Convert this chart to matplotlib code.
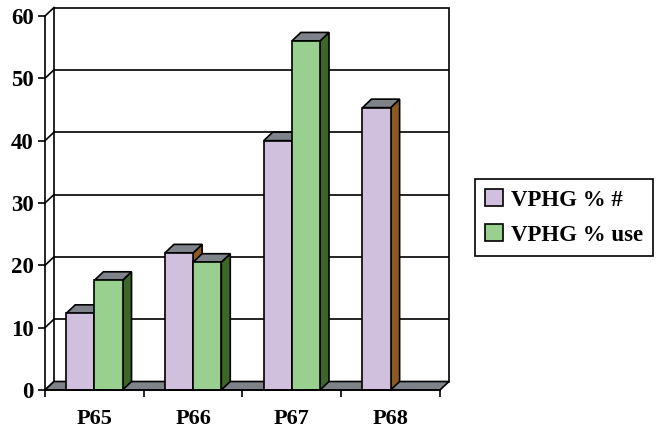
import matplotlib
matplotlib.use("Agg")
import matplotlib.pyplot as plt
from matplotlib.patches import Polygon, Patch

# ---- data ----
categories = ["P65", "P66", "P67", "P68"]
series_names = ["VPHG % #", "VPHG % use"]
vphg_count = [12.3, 22.0, 40.0, 45.3]
vphg_use = [17.6, 20.5, 56.0, 0.0]
y_ticks = [0, 10, 20, 30, 40, 50, 60]

# ---- style ----
front_colors = ["#d0c0de", "#99d08f"]
side_colors = ["#8a5a20", "#3d6628"]
top_color = "#7d8388"
floor_color = "#7d8388"
LW = 1.2

plt.rcParams["font.family"] = ["Liberation Serif", "DejaVu Serif"]
plt.rcParams["font.weight"] = "bold"

W, H, DPI = 657, 430, 100
fig = plt.figure(figsize=(W / DPI, H / DPI), dpi=DPI)

# pixel geometry of the front frame and the 3-D depth offset
x0_px, y0_px = 45, 390
cat_px = 98.75
unit_px = 374 / 60
depth_x_px, depth_y_px = 9, 8.5

dx = depth_x_px / cat_px
dy = depth_y_px / unit_px
xmin, xmax = -0.5, len(categories) - 0.5 + dx
ymin, ymax = 0, y_ticks[-1] + dy
ax_w = (xmax - xmin) * cat_px
ax_h = (ymax - ymin) * unit_px
ax = fig.add_axes([x0_px / W, (H - y0_px) / H, ax_w / W, ax_h / H])
ax.set_xlim(xmin, xmax)
ax.set_ylim(ymin, ymax)

x_left, x_right = -0.5, len(categories) - 0.5
top_v = y_ticks[-1]

# back wall
ax.add_patch(Polygon([(x_left + dx, dy), (x_right + dx, dy),
                      (x_right + dx, top_v + dy), (x_left + dx, top_v + dy)],
                     closed=True, facecolor="white", edgecolor="black",
                     lw=LW, zorder=1, clip_on=False))
# gridlines on the back wall
for v in y_ticks[1:-1]:
    ax.plot([x_left + dx, x_right + dx], [v + dy, v + dy], color="black",
            lw=LW, zorder=2, clip_on=False, solid_capstyle="butt")
# connectors from front axis ticks to back wall
for v in y_ticks:
    ax.plot([x_left, x_left + dx], [v, v + dy], color="black", lw=LW,
            zorder=2, clip_on=False)
# floor
ax.add_patch(Polygon([(x_left, 0), (x_right, 0), (x_right + dx, dy),
                      (x_left + dx, dy)], closed=True, facecolor=floor_color,
                     edgecolor="black", lw=LW, zorder=3, clip_on=False))

# bars
bw = 0.285
z = 4
series = [vphg_count, vphg_use]
for i in range(len(categories)):
    for s, vals in enumerate(series):
        h = vals[i]
        left = i - bw if s == 0 else i
        if h <= 0:
            continue
        ax.bar(left, h, width=bw, align="edge", color=front_colors[s],
               edgecolor="black", lw=LW, zorder=z + 0.2, clip_on=False)
        ax.add_patch(Polygon([(left + bw, 0), (left + bw + dx, dy),
                              (left + bw + dx, h + dy), (left + bw, h)],
                             closed=True, facecolor=side_colors[s],
                             edgecolor="black", lw=LW, zorder=z, clip_on=False))
        ax.add_patch(Polygon([(left, h), (left + bw, h),
                              (left + bw + dx, h + dy), (left + dx, h + dy)],
                             closed=True, facecolor=top_color,
                             edgecolor="black", lw=LW, zorder=z + 0.1,
                             clip_on=False))
        z += 1

# front axes
for side in ("top", "right"):
    ax.spines[side].set_visible(False)
ax.spines["left"].set_bounds(0, top_v)
ax.spines["bottom"].set_bounds(x_left, x_right)
for side in ("left", "bottom"):
    ax.spines[side].set_linewidth(LW)
    ax.spines[side].set_zorder(50)
ax.set_facecolor("none")

ax.set_yticks(y_ticks)
ax.set_yticklabels([str(v) for v in y_ticks])
ax.tick_params(axis="y", length=5, width=LW, pad=3, labelsize=16.5)

ax.set_xticks([x_left + k for k in range(len(categories) + 1)])
ax.set_xticklabels([])
ax.set_xticks(range(len(categories)), minor=True)
ax.set_xticklabels(categories, minor=True)
ax.tick_params(axis="x", which="major", length=5, width=LW)
ax.tick_params(axis="x", which="minor", length=0, pad=14, labelsize=16)

# legend
handles = [Patch(facecolor=front_colors[k], edgecolor="black", lw=LW)
           for k in range(len(series_names))]
leg = fig.legend(handles, series_names, loc="upper left",
                 bbox_to_anchor=(475 / W, 1 - 179 / H), borderaxespad=0,
                 fontsize=16.5, handlelength=0.75, handleheight=0.75,
                 handletextpad=0.35, labelspacing=0.6, borderpad=0.45,
                 fancybox=False, edgecolor="black", framealpha=1)
leg.get_frame().set_linewidth(LW)

fig.savefig("out.png", dpi=DPI)
